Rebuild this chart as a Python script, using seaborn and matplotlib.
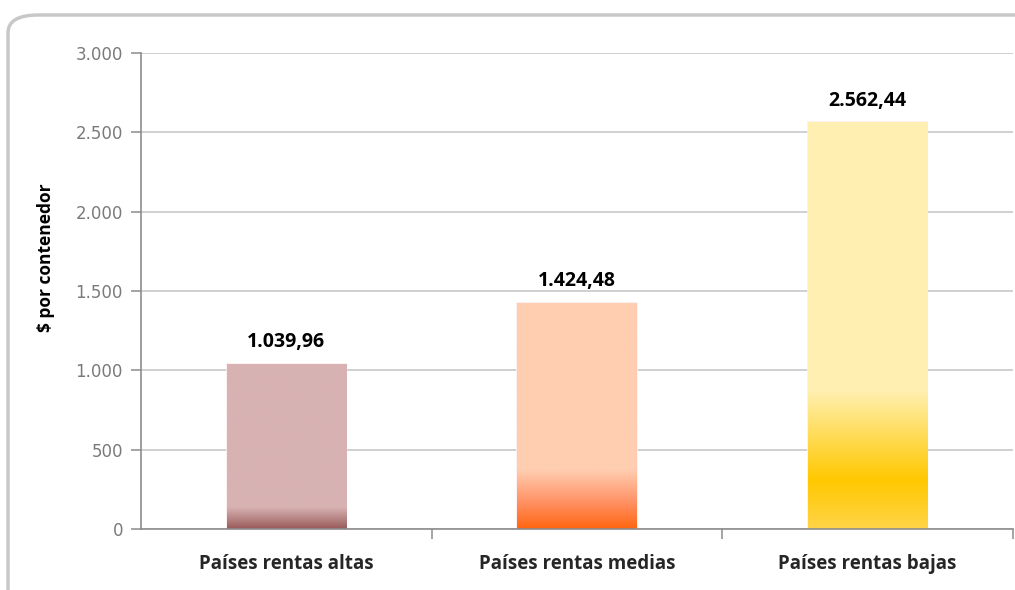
import numpy as np
import pandas as pd
import matplotlib.pyplot as plt
import seaborn as sns
from matplotlib.colors import LinearSegmentedColormap
from matplotlib.patches import FancyBboxPatch
from matplotlib.ticker import FuncFormatter, FixedLocator

# data
categorias = ['Países rentas altas', 'Países rentas medias', 'Países rentas bajas']
valores = [1039.96, 1424.48, 2562.44]
etiquetas = ['1.039,96', '1.424,48', '2.562,44']

# colour stops for each bar (fraction from bottom, colour)
degradados = [
    [(0.0, '#9a5b5b'), (0.13, '#d8b2b2'), (1.0, '#d8b2b2')],
    [(0.0, '#ff6612'), (0.12, '#ff9266'), (0.26, '#ffcdb0'), (1.0, '#ffcdb0')],
    [(0.0, '#ffd447'), (0.12, '#ffc800'), (0.34, '#fff0b2'), (1.0, '#fff0b2')],
]

sns.set_theme(style='white')
plt.rcParams['font.family'] = ['DejaVu Sans']

fig = plt.figure(figsize=(10.15, 5.9), dpi=100)
ax = fig.add_axes([0.1389, 0.1034, 0.859, 0.8068])

df = pd.DataFrame({'cat': categorias, 'val': valores})
sns.barplot(data=df, x='cat', y='val', hue='cat', palette=['#d8b2b2', '#ffcdb0', '#fff0b2'],
            width=0.41, legend=False, ax=ax, edgecolor='#fbefef', linewidth=1.2)

# gradient fill inside bars
grad = np.linspace(0, 1, 256).reshape(-1, 1)
for patch, stops in zip(ax.patches, degradados):
    x0, y0 = patch.get_x(), patch.get_y()
    w, h = patch.get_width(), patch.get_height()
    cmap = LinearSegmentedColormap.from_list('g', stops)
    im = ax.imshow(grad, cmap=cmap, origin='lower', aspect='auto',
                   extent=[x0, x0 + w, y0, y0 + h], zorder=patch.get_zorder() + 0.1,
                   interpolation='bilinear')
    im.set_clip_path(patch)

ax.set_xlim(-0.5, 2.5)
ax.set_ylim(0, 3000)

# value labels
for i, (v, t) in enumerate(zip(valores, etiquetas)):
    ax.text(i, v + 75, t, ha='center', va='bottom', fontsize=14,
            fontweight='bold', family='Open Sans', color='black')

# grid & axes
ax.set_axisbelow(True)
ax.yaxis.grid(True, color='#c4c4c4', linewidth=1.1)
ax.xaxis.grid(False)
ax.yaxis.set_major_locator(FixedLocator([0, 500, 1000, 1500, 2000, 2500, 3000]))
ax.yaxis.set_major_formatter(FuncFormatter(lambda v, p: f'{int(v):,}'.replace(',', '.')))
for s in ['top', 'right']:
    ax.spines[s].set_visible(False)
for s in ['left', 'bottom']:
    ax.spines[s].set_color('#8c8c8c')
    ax.spines[s].set_linewidth(1.2)

ax.tick_params(axis='y', which='major', length=7, width=1.1, color='#8c8c8c',
               labelsize=12, labelcolor='#7a7a7a', pad=6, left=True)
ax.set_xticks([0, 1, 2])
ax.set_xticklabels(categorias, fontsize=13.5, fontweight='bold', family='Open Sans')
ax.tick_params(axis='x', which='major', length=0, pad=18)
ax.set_xticks([0.5, 1.5, 2.5], minor=True)
ax.tick_params(axis='x', which='minor', length=7, width=1.1, color='#8c8c8c', bottom=True)

ax.set_xlabel('')
ax.set_ylabel('$ por contenedor', fontsize=12.5, fontweight='bold', family='Open Sans',
              color='black')
ax.yaxis.set_label_coords(-0.099, 0.569)

# rounded border around the chart
borde = FancyBboxPatch((0.0079, -0.05), 1.05, 0.9746 + 0.05,
                       boxstyle='round,pad=0.0,rounding_size=0.03',
                       transform=fig.transFigure, fill=False,
                       edgecolor='#c8c8c8', linewidth=2.5, clip_on=False)
fig.patches.append(borde)

plt.savefig('out.png', dpi=100)
